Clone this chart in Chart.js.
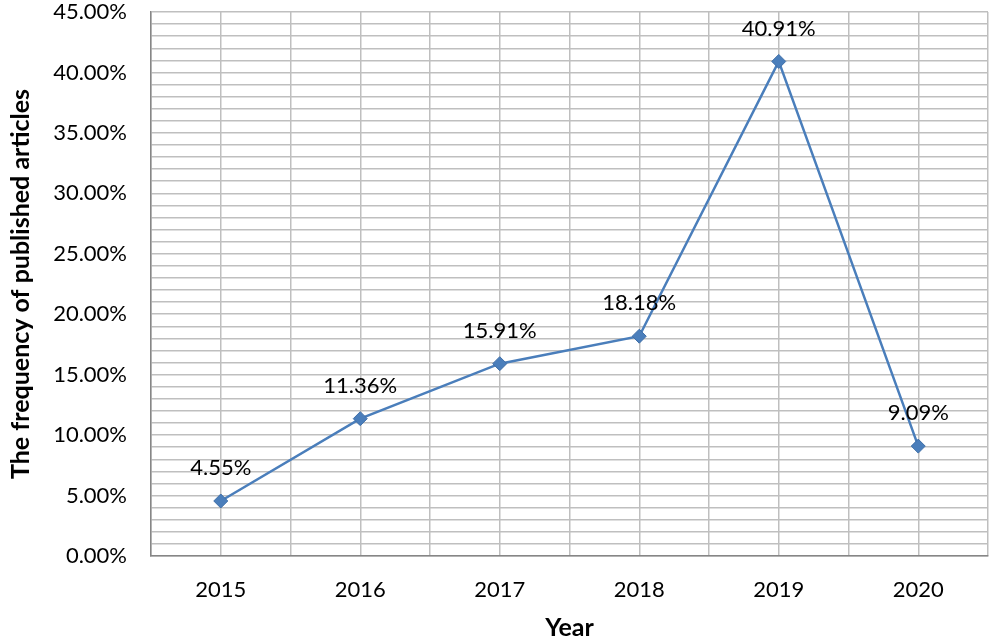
<!DOCTYPE html>
<html>
<head>
<meta charset="utf-8">
<script src="https://cdn.jsdelivr.net/npm/chart.js@4.4.0/dist/chart.umd.min.js"></script>
<style>
  body { margin: 0; background: #fff; }
  #wrap { width: 996px; height: 640px; }
</style>
</head>
<body>
<div id="wrap"><canvas id="myChart"></canvas></div>
<script>
// chart data
var years = ['2015', '2016', '2017', '2018', '2019', '2020'];
var frequency = [4.55, 11.36, 15.91, 18.18, 40.91, 9.09];
var yTicks = [0, 5, 10, 15, 20, 25, 30, 35, 40, 45];

Chart.defaults.font.family = 'Lato, "Open Sans", sans-serif';
Chart.defaults.color = '#000';

// draws "xx.xx%" above each point
var pointLabels = {
  id: 'pointLabels',
  afterDatasetsDraw: function(chart) {
    var c = chart.ctx;
    var meta = chart.getDatasetMeta(0);
    c.save();
    c.font = '22px Lato, "Open Sans", sans-serif';
    c.fillStyle = '#000';
    c.textAlign = 'center';
    c.textBaseline = 'middle';
    meta.data.forEach(function(pt, i) {
      c.fillText(frequency[i].toFixed(2) + '%', pt.x, pt.y - 33);
    });
    c.restore();
  }
};

var ctx = document.getElementById('myChart');

var chart = new Chart(ctx, {
  type: 'line',
  data: {
    datasets: [{
      label: 'Frequency',
      data: frequency.map(function(v, i) { return { x: i, y: v }; }),
      borderWidth: 2.5,
      borderColor: '#4a7ebb',
      backgroundColor: '#4a7ebb',
      pointStyle: 'rectRot',
      pointRadius: 7,
      pointBorderWidth: 1,
      pointBorderColor: '#3f6fa8',
      tension: 0
    }]
  },
  options: {
    responsive: true,
    maintainAspectRatio: false,
    animation: false,
    layout: { padding: { top: 12, right: 5, left: 0, bottom: 0 } },
    plugins: {
      legend: { display: false },
      tooltip: { enabled: false }
    },
    scales: {
      x: {
        type: 'linear',
        min: -0.5,
        max: 5.5,
        afterFit: function(scale) {
          scale.height = 84;
          scale.paddingLeft = 0;
          scale.paddingRight = 0;
        },
        ticks: {
          stepSize: 0.5,
          autoSkip: false,
          maxRotation: 0,
          padding: 21,
          font: { size: 22 },
          callback: function(v) { return Number.isInteger(v) ? years[v] : ''; }
        },
        grid: { color: '#bfbfbf', lineWidth: 1.5, drawTicks: false },
        border: { color: '#868686', width: 1.5 },
        title: {
          display: true,
          text: 'Year',
          font: { size: 25, weight: 'bold', lineHeight: 1 },
          padding: { top: 0, bottom: 0 }
        }
      },
      y: {
        min: 0,
        max: 45,
        afterFit: function(scale) {
          scale.width = 151;
          scale.paddingTop = 0;
          scale.paddingBottom = 0;
        },
        ticks: {
          stepSize: 1,
          autoSkip: false,
          maxTicksLimit: 100,
          padding: 24,
          font: { size: 22 },
          callback: function(v) { return yTicks.indexOf(v) >= 0 ? v.toFixed(2) + '%' : ''; }
        },
        grid: { color: '#bfbfbf', lineWidth: 1.5, drawTicks: false },
        border: { color: '#868686', width: 1.5 },
        title: {
          display: true,
          text: 'The frequency of published articles',
          font: { size: 25, weight: 'bold', lineHeight: 1 },
          padding: { top: 8, bottom: 0 }
        }
      }
    }
  },
  plugins: [pointLabels]
});
</script>
</body>
</html>
